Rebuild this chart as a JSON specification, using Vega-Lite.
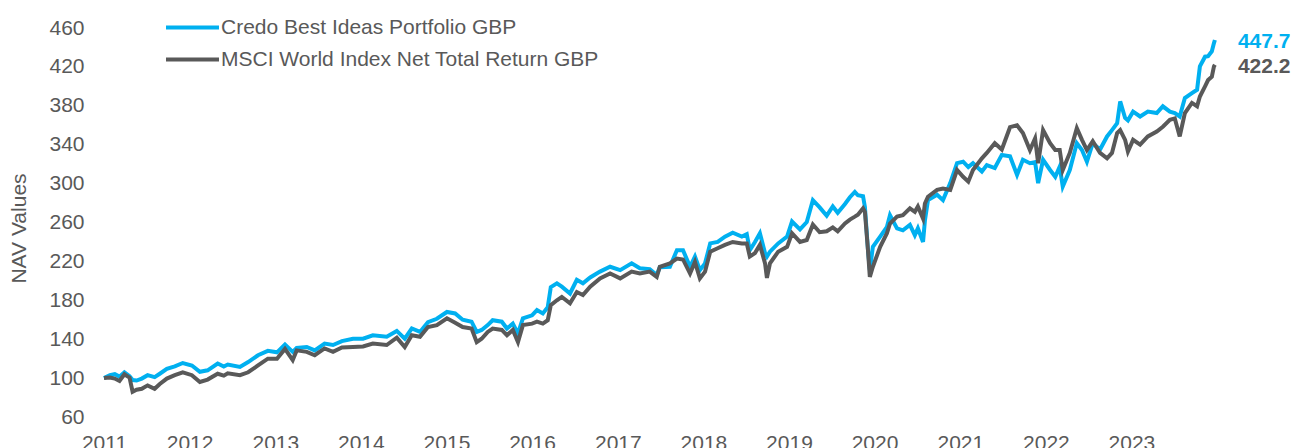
{
  "$schema": "https://vega.github.io/schema/vega-lite/v6.json",
  "width": 1113,
  "height": 389,
  "autosize": {"type": "none"},
  "padding": {"left": 104, "top": 28, "right": 85, "bottom": 31},
  "background": "white",
  "config": {
    "font": "Liberation Sans",
    "view": {"stroke": null},
    "axis": {"labelColor": "#595959", "labelFontSize": 21, "titleColor": "#595959", "grid": false, "domain": false, "ticks": false}
  },
  "data": {
    "values": [
      {"date": "2011-01-01", "credo": 100, "msci": 100},
      {"date": "2011-01-26", "credo": 103, "msci": 100.5},
      {"date": "2011-02-16", "credo": 104, "msci": 99.5},
      {"date": "2011-03-08", "credo": 101.5, "msci": 97},
      {"date": "2011-03-29", "credo": 106, "msci": 104},
      {"date": "2011-04-20", "credo": 102, "msci": 100.5},
      {"date": "2011-05-03", "credo": 98, "msci": 86},
      {"date": "2011-05-20", "credo": 97.5, "msci": 88},
      {"date": "2011-06-11", "credo": 99.5, "msci": 89},
      {"date": "2011-07-06", "credo": 103, "msci": 92.5},
      {"date": "2011-08-05", "credo": 101, "msci": 89},
      {"date": "2011-08-27", "credo": 104.5, "msci": 94},
      {"date": "2011-09-26", "credo": 109.5, "msci": 99.5},
      {"date": "2011-10-30", "credo": 112, "msci": 103},
      {"date": "2011-12-03", "credo": 115.5, "msci": 106},
      {"date": "2012-01-11", "credo": 113, "msci": 103},
      {"date": "2012-02-14", "credo": 106.5, "msci": 96},
      {"date": "2012-03-18", "credo": 108, "msci": 98.5},
      {"date": "2012-04-30", "credo": 115, "msci": 104.5},
      {"date": "2012-05-26", "credo": 112, "msci": 102.5},
      {"date": "2012-06-12", "credo": 114, "msci": 105},
      {"date": "2012-08-03", "credo": 111.5, "msci": 103},
      {"date": "2012-09-07", "credo": 116.5, "msci": 106},
      {"date": "2012-10-19", "credo": 123.5, "msci": 113},
      {"date": "2012-11-30", "credo": 128, "msci": 120},
      {"date": "2013-01-08", "credo": 126.5, "msci": 120},
      {"date": "2013-02-11", "credo": 134.5, "msci": 130},
      {"date": "2013-03-16", "credo": 127, "msci": 118.5},
      {"date": "2013-04-02", "credo": 131, "msci": 128.5},
      {"date": "2013-05-15", "credo": 132, "msci": 127},
      {"date": "2013-06-18", "credo": 128.5, "msci": 123.5},
      {"date": "2013-07-30", "credo": 135.5, "msci": 130.5},
      {"date": "2013-09-04", "credo": 134, "msci": 127},
      {"date": "2013-10-12", "credo": 138, "msci": 131.5},
      {"date": "2013-11-28", "credo": 140.5, "msci": 132},
      {"date": "2014-01-10", "credo": 140.5, "msci": 132.5},
      {"date": "2014-02-21", "credo": 144, "msci": 135.5},
      {"date": "2014-04-21", "credo": 142.5, "msci": 134},
      {"date": "2014-06-03", "credo": 148.5, "msci": 141.5},
      {"date": "2014-07-07", "credo": 140.5, "msci": 132},
      {"date": "2014-08-06", "credo": 151, "msci": 144},
      {"date": "2014-09-10", "credo": 147.5, "msci": 142.5},
      {"date": "2014-10-14", "credo": 157.5, "msci": 152.5},
      {"date": "2014-11-21", "credo": 161, "msci": 154.5},
      {"date": "2015-01-03", "credo": 168, "msci": 161.5},
      {"date": "2015-02-07", "credo": 166.5, "msci": 157},
      {"date": "2015-03-11", "credo": 160, "msci": 152.5},
      {"date": "2015-04-18", "credo": 158, "msci": 151},
      {"date": "2015-05-10", "credo": 147.5, "msci": 137},
      {"date": "2015-05-31", "credo": 149.5, "msci": 140.5},
      {"date": "2015-06-26", "credo": 154.5, "msci": 147.5},
      {"date": "2015-07-17", "credo": 159.5, "msci": 151},
      {"date": "2015-08-25", "credo": 158, "msci": 149.5},
      {"date": "2015-09-16", "credo": 151, "msci": 144},
      {"date": "2015-10-11", "credo": 156, "msci": 149.5},
      {"date": "2015-11-02", "credo": 146, "msci": 137},
      {"date": "2015-11-23", "credo": 161.5, "msci": 154.5},
      {"date": "2016-01-01", "credo": 164.5, "msci": 156},
      {"date": "2016-01-22", "credo": 170, "msci": 158},
      {"date": "2016-02-16", "credo": 166.5, "msci": 156},
      {"date": "2016-03-08", "credo": 173, "msci": 159.5},
      {"date": "2016-03-21", "credo": 193.5, "msci": 175},
      {"date": "2016-04-16", "credo": 197.5, "msci": 180},
      {"date": "2016-05-07", "credo": 194, "msci": 183.5},
      {"date": "2016-06-11", "credo": 187, "msci": 177},
      {"date": "2016-07-10", "credo": 201, "msci": 188.5},
      {"date": "2016-08-05", "credo": 197.5, "msci": 185.5},
      {"date": "2016-09-05", "credo": 203.5, "msci": 194},
      {"date": "2016-10-17", "credo": 209.5, "msci": 202.5},
      {"date": "2016-11-29", "credo": 214.5, "msci": 207.5},
      {"date": "2017-01-11", "credo": 211, "msci": 202.5},
      {"date": "2017-03-01", "credo": 218, "msci": 209.5},
      {"date": "2017-04-05", "credo": 213, "msci": 207.5},
      {"date": "2017-05-17", "credo": 212, "msci": 209.5},
      {"date": "2017-06-16", "credo": 206, "msci": 204},
      {"date": "2017-06-29", "credo": 214, "msci": 214.5},
      {"date": "2017-08-11", "credo": 214.5, "msci": 218},
      {"date": "2017-09-10", "credo": 231.5, "msci": 223},
      {"date": "2017-10-06", "credo": 231.5, "msci": 222},
      {"date": "2017-11-05", "credo": 214.5, "msci": 207.5},
      {"date": "2017-11-26", "credo": 225, "msci": 219.5},
      {"date": "2017-12-17", "credo": 211, "msci": 202.5},
      {"date": "2018-01-08", "credo": 218, "msci": 209.5},
      {"date": "2018-01-30", "credo": 238.5, "msci": 230},
      {"date": "2018-03-03", "credo": 240, "msci": 233.5},
      {"date": "2018-04-03", "credo": 245.5, "msci": 237},
      {"date": "2018-05-06", "credo": 249.5, "msci": 240},
      {"date": "2018-06-14", "credo": 245.5, "msci": 238.5},
      {"date": "2018-07-05", "credo": 248, "msci": 238.5},
      {"date": "2018-07-18", "credo": 231.5, "msci": 225},
      {"date": "2018-08-09", "credo": 240, "msci": 228.5},
      {"date": "2018-08-30", "credo": 249, "msci": 237},
      {"date": "2018-09-21", "credo": 228.5, "msci": 218},
      {"date": "2018-09-29", "credo": 225, "msci": 203},
      {"date": "2018-10-12", "credo": 230, "msci": 218},
      {"date": "2018-11-16", "credo": 238.5, "msci": 230},
      {"date": "2018-12-24", "credo": 245.5, "msci": 235},
      {"date": "2019-01-14", "credo": 261, "msci": 249},
      {"date": "2019-02-17", "credo": 253, "msci": 240},
      {"date": "2019-03-18", "credo": 260.5, "msci": 242},
      {"date": "2019-04-13", "credo": 283, "msci": 258},
      {"date": "2019-05-12", "credo": 275.5, "msci": 250},
      {"date": "2019-06-11", "credo": 267, "msci": 251},
      {"date": "2019-07-07", "credo": 276.5, "msci": 255},
      {"date": "2019-07-28", "credo": 270, "msci": 251},
      {"date": "2019-08-28", "credo": 279, "msci": 259},
      {"date": "2019-09-18", "credo": 286, "msci": 263},
      {"date": "2019-10-09", "credo": 291.5, "msci": 266},
      {"date": "2019-10-22", "credo": 288, "msci": 268},
      {"date": "2019-11-13", "credo": 287, "msci": 274.5},
      {"date": "2019-11-21", "credo": 276, "msci": 271},
      {"date": "2019-12-04", "credo": 232, "msci": 231.5},
      {"date": "2019-12-12", "credo": 211, "msci": 204},
      {"date": "2019-12-25", "credo": 235, "msci": 214.5},
      {"date": "2020-01-25", "credo": 245.5, "msci": 235},
      {"date": "2020-02-23", "credo": 255.5, "msci": 249},
      {"date": "2020-03-07", "credo": 267.5, "msci": 259},
      {"date": "2020-04-06", "credo": 254, "msci": 266},
      {"date": "2020-05-01", "credo": 252, "msci": 267.5},
      {"date": "2020-05-31", "credo": 257.5, "msci": 274.5},
      {"date": "2020-06-21", "credo": 247, "msci": 271},
      {"date": "2020-07-04", "credo": 254, "msci": 276.5},
      {"date": "2020-07-26", "credo": 240, "msci": 264},
      {"date": "2020-08-03", "credo": 262, "msci": 279.5},
      {"date": "2020-08-16", "credo": 283, "msci": 286.5},
      {"date": "2020-09-24", "credo": 288.5, "msci": 293.5},
      {"date": "2020-10-19", "credo": 283, "msci": 295},
      {"date": "2020-11-19", "credo": 300.5, "msci": 293.5},
      {"date": "2020-12-18", "credo": 321, "msci": 314},
      {"date": "2021-01-13", "credo": 322.5, "msci": 307},
      {"date": "2021-02-04", "credo": 317, "msci": 302},
      {"date": "2021-02-24", "credo": 321, "msci": 314},
      {"date": "2021-04-03", "credo": 312.5, "msci": 326},
      {"date": "2021-04-24", "credo": 319, "msci": 331.5},
      {"date": "2021-05-28", "credo": 316, "msci": 341.5},
      {"date": "2021-06-27", "credo": 329.5, "msci": 335},
      {"date": "2021-08-01", "credo": 328, "msci": 358},
      {"date": "2021-08-31", "credo": 309, "msci": 360},
      {"date": "2021-09-25", "credo": 324.5, "msci": 352},
      {"date": "2021-10-25", "credo": 321, "msci": 334.5},
      {"date": "2021-11-16", "credo": 322, "msci": 346.5},
      {"date": "2021-11-29", "credo": 300.5, "msci": 321},
      {"date": "2021-12-20", "credo": 324.5, "msci": 355},
      {"date": "2022-01-19", "credo": 314, "msci": 341.5},
      {"date": "2022-02-10", "credo": 307, "msci": 334.5},
      {"date": "2022-03-01", "credo": 317.5, "msci": 334.5},
      {"date": "2022-03-14", "credo": 297, "msci": 314},
      {"date": "2022-04-13", "credo": 314, "msci": 331.5},
      {"date": "2022-05-13", "credo": 341.5, "msci": 357},
      {"date": "2022-06-04", "credo": 334.5, "msci": 345},
      {"date": "2022-06-25", "credo": 322.5, "msci": 334.5},
      {"date": "2022-07-20", "credo": 341.5, "msci": 343.5},
      {"date": "2022-08-20", "credo": 335, "msci": 331.5},
      {"date": "2022-09-19", "credo": 348.5, "msci": 326},
      {"date": "2022-10-10", "credo": 355, "msci": 331.5},
      {"date": "2022-11-01", "credo": 362, "msci": 352},
      {"date": "2022-11-14", "credo": 384.5, "msci": 355},
      {"date": "2022-12-05", "credo": 367.5, "msci": 345},
      {"date": "2022-12-17", "credo": 365, "msci": 333},
      {"date": "2023-01-08", "credo": 374, "msci": 345},
      {"date": "2023-02-07", "credo": 369, "msci": 340},
      {"date": "2023-03-12", "credo": 374, "msci": 348.5},
      {"date": "2023-04-19", "credo": 372.5, "msci": 353.5},
      {"date": "2023-05-15", "credo": 379.5, "msci": 358.5},
      {"date": "2023-06-14", "credo": 374, "msci": 365.5},
      {"date": "2023-07-05", "credo": 372.5, "msci": 367},
      {"date": "2023-07-26", "credo": 369, "msci": 348.5},
      {"date": "2023-08-17", "credo": 388, "msci": 372.5},
      {"date": "2023-09-16", "credo": 393, "msci": 383},
      {"date": "2023-10-08", "credo": 396.5, "msci": 379.5},
      {"date": "2023-10-20", "credo": 420.5, "msci": 389.5},
      {"date": "2023-11-11", "credo": 430.5, "msci": 400},
      {"date": "2023-11-24", "credo": 431, "msci": 406.5},
      {"date": "2023-12-10", "credo": 436, "msci": 410},
      {"date": "2023-12-19", "credo": 444.5, "msci": 420.5},
      {"date": "2023-12-23", "credo": 447.7, "msci": 422.2}
    ]
  },
  "transform": [
    {"fold": ["credo", "msci"], "as": ["series", "value"]}
  ],
  "encoding": {
    "x": {
      "field": "date",
      "type": "temporal",
      "scale": {"type": "utc", "domain": [{"year": 2011, "month": 1, "date": 1, "utc": true}, {"year": 2024, "month": 1, "date": 1, "utc": true}]},
      "axis": {
        "title": null,
        "format": "%Y",
        "values": [
          {"year": 2011, "month": 1, "date": 1, "utc": true},
          {"year": 2012, "month": 1, "date": 1, "utc": true},
          {"year": 2013, "month": 1, "date": 1, "utc": true},
          {"year": 2014, "month": 1, "date": 1, "utc": true},
          {"year": 2015, "month": 1, "date": 1, "utc": true},
          {"year": 2016, "month": 1, "date": 1, "utc": true},
          {"year": 2017, "month": 1, "date": 1, "utc": true},
          {"year": 2018, "month": 1, "date": 1, "utc": true},
          {"year": 2019, "month": 1, "date": 1, "utc": true},
          {"year": 2020, "month": 1, "date": 1, "utc": true},
          {"year": 2021, "month": 1, "date": 1, "utc": true},
          {"year": 2022, "month": 1, "date": 1, "utc": true},
          {"year": 2023, "month": 1, "date": 1, "utc": true}
        ],
        "labelAlign": "center",
        "labelBaseline": "top",
        "labelPadding": 15,
        "labelOverlap": false,
        "labelBound": false,
        "labelFlush": false
      }
    },
    "y": {
      "field": "value",
      "type": "quantitative",
      "scale": {"domain": [60, 460], "nice": false, "zero": false},
      "axis": {
        "title": "NAV Values",
        "values": [60, 100, 140, 180, 220, 260, 300, 340, 380, 420, 460],
        "labelPadding": 20,
        "titleFontSize": 21,
        "titleFontWeight": "normal",
        "titleAngle": -90,
        "titleAlign": "center",
        "titleBaseline": "alphabetic",
        "titleX": -79,
        "titleY": 200
      }
    },
    "color": {
      "field": "series",
      "type": "nominal",
      "scale": {"domain": ["credo", "msci"], "range": ["#00B0F0", "#595959"]}
    }
  },
  "layer": [
    {
      "mark": {"type": "line", "strokeWidth": 4, "interpolate": "linear"},
      "encoding": {
        "color": {
          "field": "series",
          "type": "nominal",
          "scale": {"domain": ["credo", "msci"], "range": ["#00B0F0", "#595959"]},
          "legend": {
            "title": null,
            "orient": "none",
            "legendX": 73,
            "legendY": -16,
            "direction": "vertical",
            "symbolType": "M-2,0H2",
            "symbolSize": 702,
            "symbolStrokeWidth": 4,
            "labelFontSize": 21,
            "labelColor": "#595959",
            "labelLimit": 0,
            "labelOffset": 13,
            "rowPadding": 6,
            "labelExpr": "datum.value == 'credo' ? 'Credo Best Ideas Portfolio GBP' : 'MSCI World Index Net Total Return GBP'"
          }
        }
      }
    },
    {
      "transform": [
        {"joinaggregate": [{"op": "max", "field": "date", "as": "lastdate"}]},
        {"filter": "time(datum.date) == time(datum.lastdate)"}
      ],
      "mark": {"type": "text", "align": "left", "baseline": "middle", "dx": 23, "dy": 2, "fontSize": 21, "fontWeight": "bold"},
      "encoding": {
        "text": {"field": "value", "type": "quantitative", "format": ".1f"},
        "color": {"field": "series", "type": "nominal", "legend": null}
      }
    }
  ]
}
